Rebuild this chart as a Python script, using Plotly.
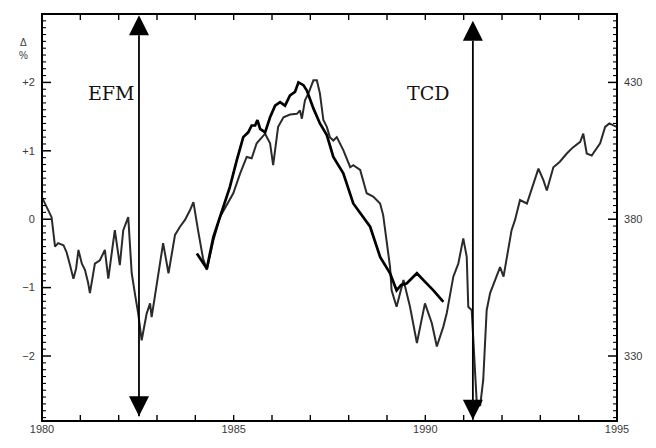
import plotly.graph_objects as go

# ---- data ----
thin_year = [1980.00, 1980.08, 1980.16, 1980.25, 1980.34, 1980.42, 1980.56, 1980.64, 1980.73, 1980.82,
             1980.89, 1980.95, 1981.04, 1981.12, 1981.20, 1981.25, 1981.38, 1981.51, 1981.64, 1981.73,
             1981.83, 1981.90, 1982.03, 1982.12, 1982.25, 1982.34, 1982.43, 1982.51, 1982.60, 1982.73,
             1982.82, 1982.86, 1982.95, 1983.03, 1983.16, 1983.30, 1983.47, 1983.60, 1983.73, 1983.86,
             1983.95, 1984.07, 1984.20, 1984.30, 1984.47, 1984.64, 1984.80, 1984.99, 1985.17, 1985.34,
             1985.47, 1985.60, 1985.82, 1985.95, 1986.03, 1986.16, 1986.30, 1986.47, 1986.65, 1986.73,
             1986.78, 1986.86, 1986.95, 1987.08, 1987.17, 1987.25, 1987.34, 1987.43, 1987.51, 1987.60,
             1987.69, 1987.86, 1988.04, 1988.12, 1988.30, 1988.47, 1988.64, 1988.82, 1988.90, 1988.99,
             1989.08, 1989.12, 1989.25, 1989.43, 1989.60, 1989.78, 1989.99, 1990.17, 1990.30, 1990.47,
             1990.56, 1990.73, 1990.86, 1990.99, 1991.08, 1991.12, 1991.21, 1991.34, 1991.43, 1991.51,
             1991.60, 1991.69, 1991.82, 1991.95, 1992.04, 1992.17, 1992.25, 1992.34, 1992.47, 1992.65,
             1992.82, 1992.95, 1993.08, 1993.17, 1993.34, 1993.51, 1993.69, 1993.85, 1994.04, 1994.12,
             1994.21, 1994.34, 1994.56, 1994.69, 1994.80, 1994.99]
thin_val = [0.32, 0.23, 0.13, 0.03, -0.40, -0.35, -0.38, -0.48, -0.67, -0.87,
            -0.72, -0.45, -0.65, -0.74, -0.92, -1.08, -0.65, -0.60, -0.45, -0.87,
            -0.45, -0.16, -0.67, -0.16, 0.03, -0.79, -1.11, -1.38, -1.77, -1.38,
            -1.23, -1.43, -1.11, -0.84, -0.35, -0.79, -0.23, -0.11, -0.01, 0.13,
            0.25, -0.16, -0.57, -0.74, -0.31, 0.03, 0.20, 0.38, 0.67, 0.91,
            0.89, 1.11, 1.25, 1.11, 0.79, 1.35, 1.49, 1.53, 1.54, 1.59,
            1.47, 1.74, 1.84, 2.03, 2.03, 1.84, 1.45, 1.35, 1.20, 1.15,
            1.20, 1.01, 0.76, 0.79, 0.72, 0.38, 0.33, 0.23, 0.06, -0.31,
            -0.70, -1.04, -1.28, -0.89, -1.28, -1.81, -1.23, -1.52, -1.86, -1.57,
            -1.37, -0.84, -0.65, -0.28, -0.55, -1.28, -1.33, -2.67, -2.73, -2.35,
            -1.33, -1.08, -0.89, -0.70, -0.84, -0.40, -0.16, -0.01, 0.28, 0.23,
            0.52, 0.74, 0.57, 0.42, 0.76, 0.84, 0.96, 1.05, 1.13, 1.25,
            0.96, 0.93, 1.11, 1.35, 1.40, 1.35]

thick_year = [1984.04, 1984.30, 1984.47, 1984.64, 1984.77, 1984.90, 1985.08, 1985.25, 1985.38, 1985.47,
              1985.56, 1985.62, 1985.69, 1985.82, 1985.95, 1986.08, 1986.21, 1986.34, 1986.47, 1986.60,
              1986.69, 1986.82, 1986.91, 1987.08, 1987.25, 1987.43, 1987.60, 1987.86, 1988.12, 1988.30,
              1988.56, 1988.82, 1989.08, 1989.25, 1989.37, 1989.51, 1989.65, 1989.78, 1989.95, 1990.21,
              1990.47]
thick_val = [-0.50, -0.72, -0.26, 0.03, 0.23, 0.47, 0.86, 1.20, 1.27, 1.37,
             1.37, 1.45, 1.32, 1.27, 1.49, 1.66, 1.71, 1.66, 1.81, 1.86,
             2.00, 1.96, 1.88, 1.62, 1.40, 1.23, 0.91, 0.67, 0.23, 0.09,
             -0.11, -0.55, -0.79, -1.04, -0.96, -0.94, -0.86, -0.79, -0.89, -1.04,
             -1.21]

event_names = ["EFM", "TCD"]
event_years = [1982.53, 1991.24]

x_tick_years = list(range(1980, 1996))
left_tickvals = [-2, -1, 0, 1, 2]
left_ticktext = ["\u22122", "\u22121", "0", "+1", "+2"]
right_tickvals = [330, 380, 430]
right_ticktext = ["330", "380", "430"]

# ---- layout constants ----
X_RANGE = [1980, 1995]
Y_RANGE = [-2.95, 3.0]
Y2_RANGE = [306.25, 455.0]
INK = "#000000"
nb = "\u00a0"
tickfont = dict(family="Liberation Sans, Arial, sans-serif", size=11, color="#3a3a3a")
left_minor = [round(-2.9 + 0.1 * i, 2) for i in range(59)]
right_minor = [307.5 + 2.5 * i for i in range(59)]

# ---- figure ----
fig = go.Figure()
fig.add_trace(go.Scatter(x=thin_year, y=thin_val, mode="lines",
                         line=dict(color="#2a2a2a", width=2.0), showlegend=False))
fig.add_trace(go.Scatter(x=thick_year, y=thick_val, mode="lines",
                         line=dict(color=INK, width=2.7), showlegend=False))
fig.add_trace(go.Scatter(x=[None], y=[None], yaxis="y2", mode="lines", showlegend=False))

# double-headed event arrows (shaft + arrowhead markers whose tips sit on the ends)
arrow_top = [2.98, 2.9]
arrow_bottom = [-2.88, -2.93]
for yr, top, bot in zip(event_years, arrow_top, arrow_bottom):
    fig.add_trace(go.Scatter(x=[yr, yr], y=[bot, top], mode="lines+markers",
                             line=dict(color=INK, width=1.8),
                             marker=dict(symbol=["arrow-down", "arrow-up"], size=20, color=INK,
                                         line=dict(width=0)),
                             showlegend=False))

fig.update_layout(
    width=656, height=448,
    margin=dict(l=42, r=39, t=14, b=27, autoexpand=False),
    paper_bgcolor="#ffffff", plot_bgcolor="#ffffff",
    xaxis=dict(range=X_RANGE, showgrid=False, zeroline=False, automargin=False,
               showline=False, ticks="",
               tickmode="array", tickvals=[y for y in x_tick_years if y % 5 == 0],
               ticktext=[str(y) for y in x_tick_years if y % 5 == 0],
               tickfont=tickfont),
    yaxis=dict(range=Y_RANGE, showgrid=False, zeroline=False, automargin=False,
               showline=False, ticks="",
               tickmode="array", tickvals=left_tickvals,
               ticktext=[t + nb * 2 for t in left_ticktext],
               tickfont=tickfont),
    yaxis2=dict(overlaying="y", side="right", range=Y2_RANGE, automargin=False,
                showgrid=False, zeroline=False, showline=False, ticks="",
                tickmode="array", tickvals=right_tickvals,
                ticktext=[nb * 2 + t for t in right_ticktext],
                tickfont=tickfont),
)

# ---- frame and inward tick marks ----
shapes = [dict(type="rect", xref="paper", yref="paper", x0=0, x1=1, y0=0, y1=1,
               line=dict(color=INK, width=2), layer="above")]
for yr in x_tick_years:
    for anchor, length in ((0, 6), (1, -6)):
        shapes.append(dict(type="line", xref="x", yref="y domain", ysizemode="pixel",
                           yanchor=anchor, x0=yr, x1=yr, y0=0, y1=length,
                           line=dict(color=INK, width=1.4), layer="above"))
for v in left_minor:
    major = abs(v - round(v)) < 1e-6
    shapes.append(dict(type="line", xref="x", yref="y", xsizemode="pixel",
                       xanchor=X_RANGE[0], x0=0, x1=9 if major else 4, y0=v, y1=v,
                       line=dict(color=INK, width=1.5 if major else 1.1), layer="above"))
for v in right_minor:
    major = v in right_tickvals
    shapes.append(dict(type="line", xref="x", yref="y2", xsizemode="pixel",
                       xanchor=X_RANGE[1], x0=0, x1=-9 if major else -4, y0=v, y1=v,
                       line=dict(color=INK, width=1.5 if major else 1.1), layer="above"))
fig.update_layout(shapes=shapes)

# event labels
label_x = [1982.48, 1990.08]
label_anchor = ["right", "center"]
for name, lx, anc in zip(event_names, label_x, label_anchor):
    fig.add_annotation(x=lx, y=1.84, xref="x", yref="y", text=name, showarrow=False,
                       xanchor=anc, yanchor="middle",
                       font=dict(family="DejaVu Serif, serif", size=19, color="#111111"))

# axis unit label
fig.add_annotation(x=-0.033, y=0.915, xref="paper", yref="paper", text="\u0394<br>%",
                   showarrow=False, xanchor="center", yanchor="middle",
                   font=dict(family="Liberation Sans, Arial, sans-serif", size=10, color="#3a3a3a"))

fig.write_html("out.html")
